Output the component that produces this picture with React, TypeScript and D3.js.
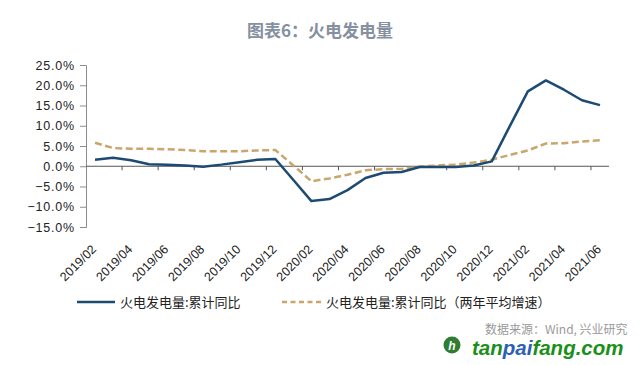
import React, { useRef, useEffect } from 'react';
import * as d3 from 'd3';

const categories = [
  '2019/02', '2019/03', '2019/04', '2019/05', '2019/06', '2019/07', '2019/08', '2019/09', '2019/10', '2019/11', '2019/12',
  '2020/01', '2020/02', '2020/03', '2020/04', '2020/05', '2020/06', '2020/07', '2020/08', '2020/09', '2020/10', '2020/11', '2020/12',
  '2021/01', '2021/02', '2021/03', '2021/04', '2021/05', '2021/06',
];

// 火电发电量:累计同比
const cumYoY = [
  1.6, 2.1, 1.5, 0.5, 0.4, 0.2, -0.1, 0.4, 1.0, 1.6, 1.8,
  -3.4, -8.6, -8.1, -5.9, -2.9, -1.6, -1.4, -0.2, -0.2, -0.2, 0.2, 1.2,
  9.9, 18.5, 21.2, 18.9, 16.3, 15.1,
];

// 火电发电量:累计同比（两年平均增速）
const twoYearAvg = [
  5.8, 4.5, 4.3, 4.3, 4.2, 4.0, 3.7, 3.7, 3.7, 3.9, 4.0,
  0.2, -3.7, -3.0, -2.1, -1.0, -0.7, -0.7, -0.1, 0.2, 0.4, 0.9, 1.6,
  2.8, 3.9, 5.6, 5.7, 6.1, 6.4,
];

const yTicks = [25, 20, 15, 10, 5, 0, -5, -10, -15];

const seriesNames = ['火电发电量:累计同比', '火电发电量:累计同比（两年平均增速）'];

const BLUE = '#1d4a72';
const TAN = '#c9a66b';

const W = 641;
const H = 365;

const Chart = () => {
  const svgRef = useRef<SVGSVGElement>(null);

  useEffect(() => {
    const svg = d3.select(svgRef.current);
    svg.selectAll('*').remove();

    const x = d3.scaleBand().domain(categories).range([86, 609]);
    const y = d3.scaleLinear().domain([-15, 25]).range([227, 65]);
    const cx = (c: string) => (x(c) as number) + x.bandwidth() / 2;

    // title
    svg.append('text')
      .attr('x', 320)
      .attr('y', 37)
      .attr('text-anchor', 'middle')
      .attr('font-family', '"Noto Sans CJK SC", sans-serif')
      .attr('font-size', 17)
      .attr('font-weight', 'bold')
      .attr('fill', '#8590a0')
      .text('图表6：火电发电量');

    // y axis
    const yAxis = d3.axisLeft(y)
      .tickValues(yTicks)
      .tickSize(6)
      .tickPadding(5)
      .tickFormat(d => d3.format('.1f')(d as number) + '%');

    const gy = svg.append('g')
      .attr('transform', 'translate(86,0)')
      .call(yAxis);
    gy.select('.domain').attr('stroke', '#8c8c8c');
    gy.selectAll('.tick line').attr('stroke', '#8c8c8c');
    gy.selectAll('.tick text')
      .attr('font-family', 'Arial, "Liberation Sans", sans-serif')
      .attr('font-size', 12.5)
      .attr('letter-spacing', 0.8)
      .attr('fill', '#222');

    // x axis line at zero
    const labelCats = categories.filter((_, i) => i % 2 === 0);
    const gx = svg.append('g');
    gx.append('line')
      .attr('x1', 86).attr('x2', 609)
      .attr('y1', y(0)).attr('y2', y(0))
      .attr('stroke', '#555')
      .attr('stroke-width', 1);
    gx.selectAll('line.tk')
      .data(labelCats.slice(1))
      .enter()
      .append('line')
      .attr('class', 'tk')
      .attr('x1', d => x(d) as number)
      .attr('x2', d => x(d) as number)
      .attr('y1', y(0))
      .attr('y2', y(0) + 4)
      .attr('stroke', '#555');

    svg.append('g')
      .selectAll('text')
      .data(labelCats)
      .enter()
      .append('text')
      .attr('transform', d => `translate(${cx(d) + 2},250) rotate(-45)`)
      .attr('text-anchor', 'end')
      .attr('font-family', 'Arial, "Liberation Sans", sans-serif')
      .attr('font-size', 12.5)
      .attr('fill', '#222')
      .text(d => d);

    // lines
    const line = d3.line<number>()
      .x((_, i) => cx(categories[i]))
      .y(d => y(d));

    svg.append('path')
      .datum(twoYearAvg)
      .attr('d', line)
      .attr('fill', 'none')
      .attr('stroke', TAN)
      .attr('stroke-width', 2.5)
      .attr('stroke-dasharray', '7,3.5');

    svg.append('path')
      .datum(cumYoY)
      .attr('d', line)
      .attr('fill', 'none')
      .attr('stroke', BLUE)
      .attr('stroke-width', 2.5)
      .attr('stroke-linejoin', 'round');

    // legend
    const lg = svg.append('g').attr('font-family', '"Noto Sans CJK SC", sans-serif').attr('font-size', 13).attr('fill', '#222');
    lg.append('line').attr('x1', 77).attr('x2', 115).attr('y1', 302).attr('y2', 302)
      .attr('stroke', BLUE).attr('stroke-width', 2.5);
    lg.append('text').attr('x', 120).attr('y', 306.5).text(seriesNames[0]);
    lg.append('line').attr('x1', 282).attr('x2', 322).attr('y1', 302).attr('y2', 302)
      .attr('stroke', TAN).attr('stroke-width', 2.5).attr('stroke-dasharray', '5,3.5');
    lg.append('text').attr('x', 326).attr('y', 306.5).text(seriesNames[1]);

    // source
    svg.append('text')
      .attr('x', 485)
      .attr('y', 334)
      .attr('font-family', '"Noto Sans CJK SC", sans-serif')
      .attr('font-size', 12)
      .attr('fill', '#9a9a9a')
      .text('数据来源：Wind, 兴业研究');

    // watermark
    const wm = svg.append('g');
    wm.append('circle').attr('cx', 452).attr('cy', 345).attr('r', 8.5).attr('fill', '#2e7d32');
    wm.append('text').attr('x', 452).attr('y', 349.5).attr('text-anchor', 'middle')
      .attr('font-family', 'Arial, sans-serif').attr('font-size', 12).attr('font-weight', 'bold')
      .attr('font-style', 'italic').attr('fill', '#fff').text('h');
    const wt = wm.append('text').attr('x', 472).attr('y', 355)
      .attr('font-family', 'Arial, "Liberation Sans", sans-serif').attr('font-size', 20.5)
      .attr('font-weight', 'bold').attr('font-style', 'italic');
    wt.append('tspan').attr('fill', '#1a8f1a').text('tan');
    wt.append('tspan').attr('fill', '#2d5fb5').text('pai');
    wt.append('tspan').attr('fill', '#1a8f1a').text('fang.com');
  }, []);

  return (
    <svg
      ref={svgRef}
      width={W}
      height={H}
      style={{ position: 'absolute', left: 0, top: 0, background: '#fff' }}
    />
  );
};

export default function App() {
  return <Chart />;
}
